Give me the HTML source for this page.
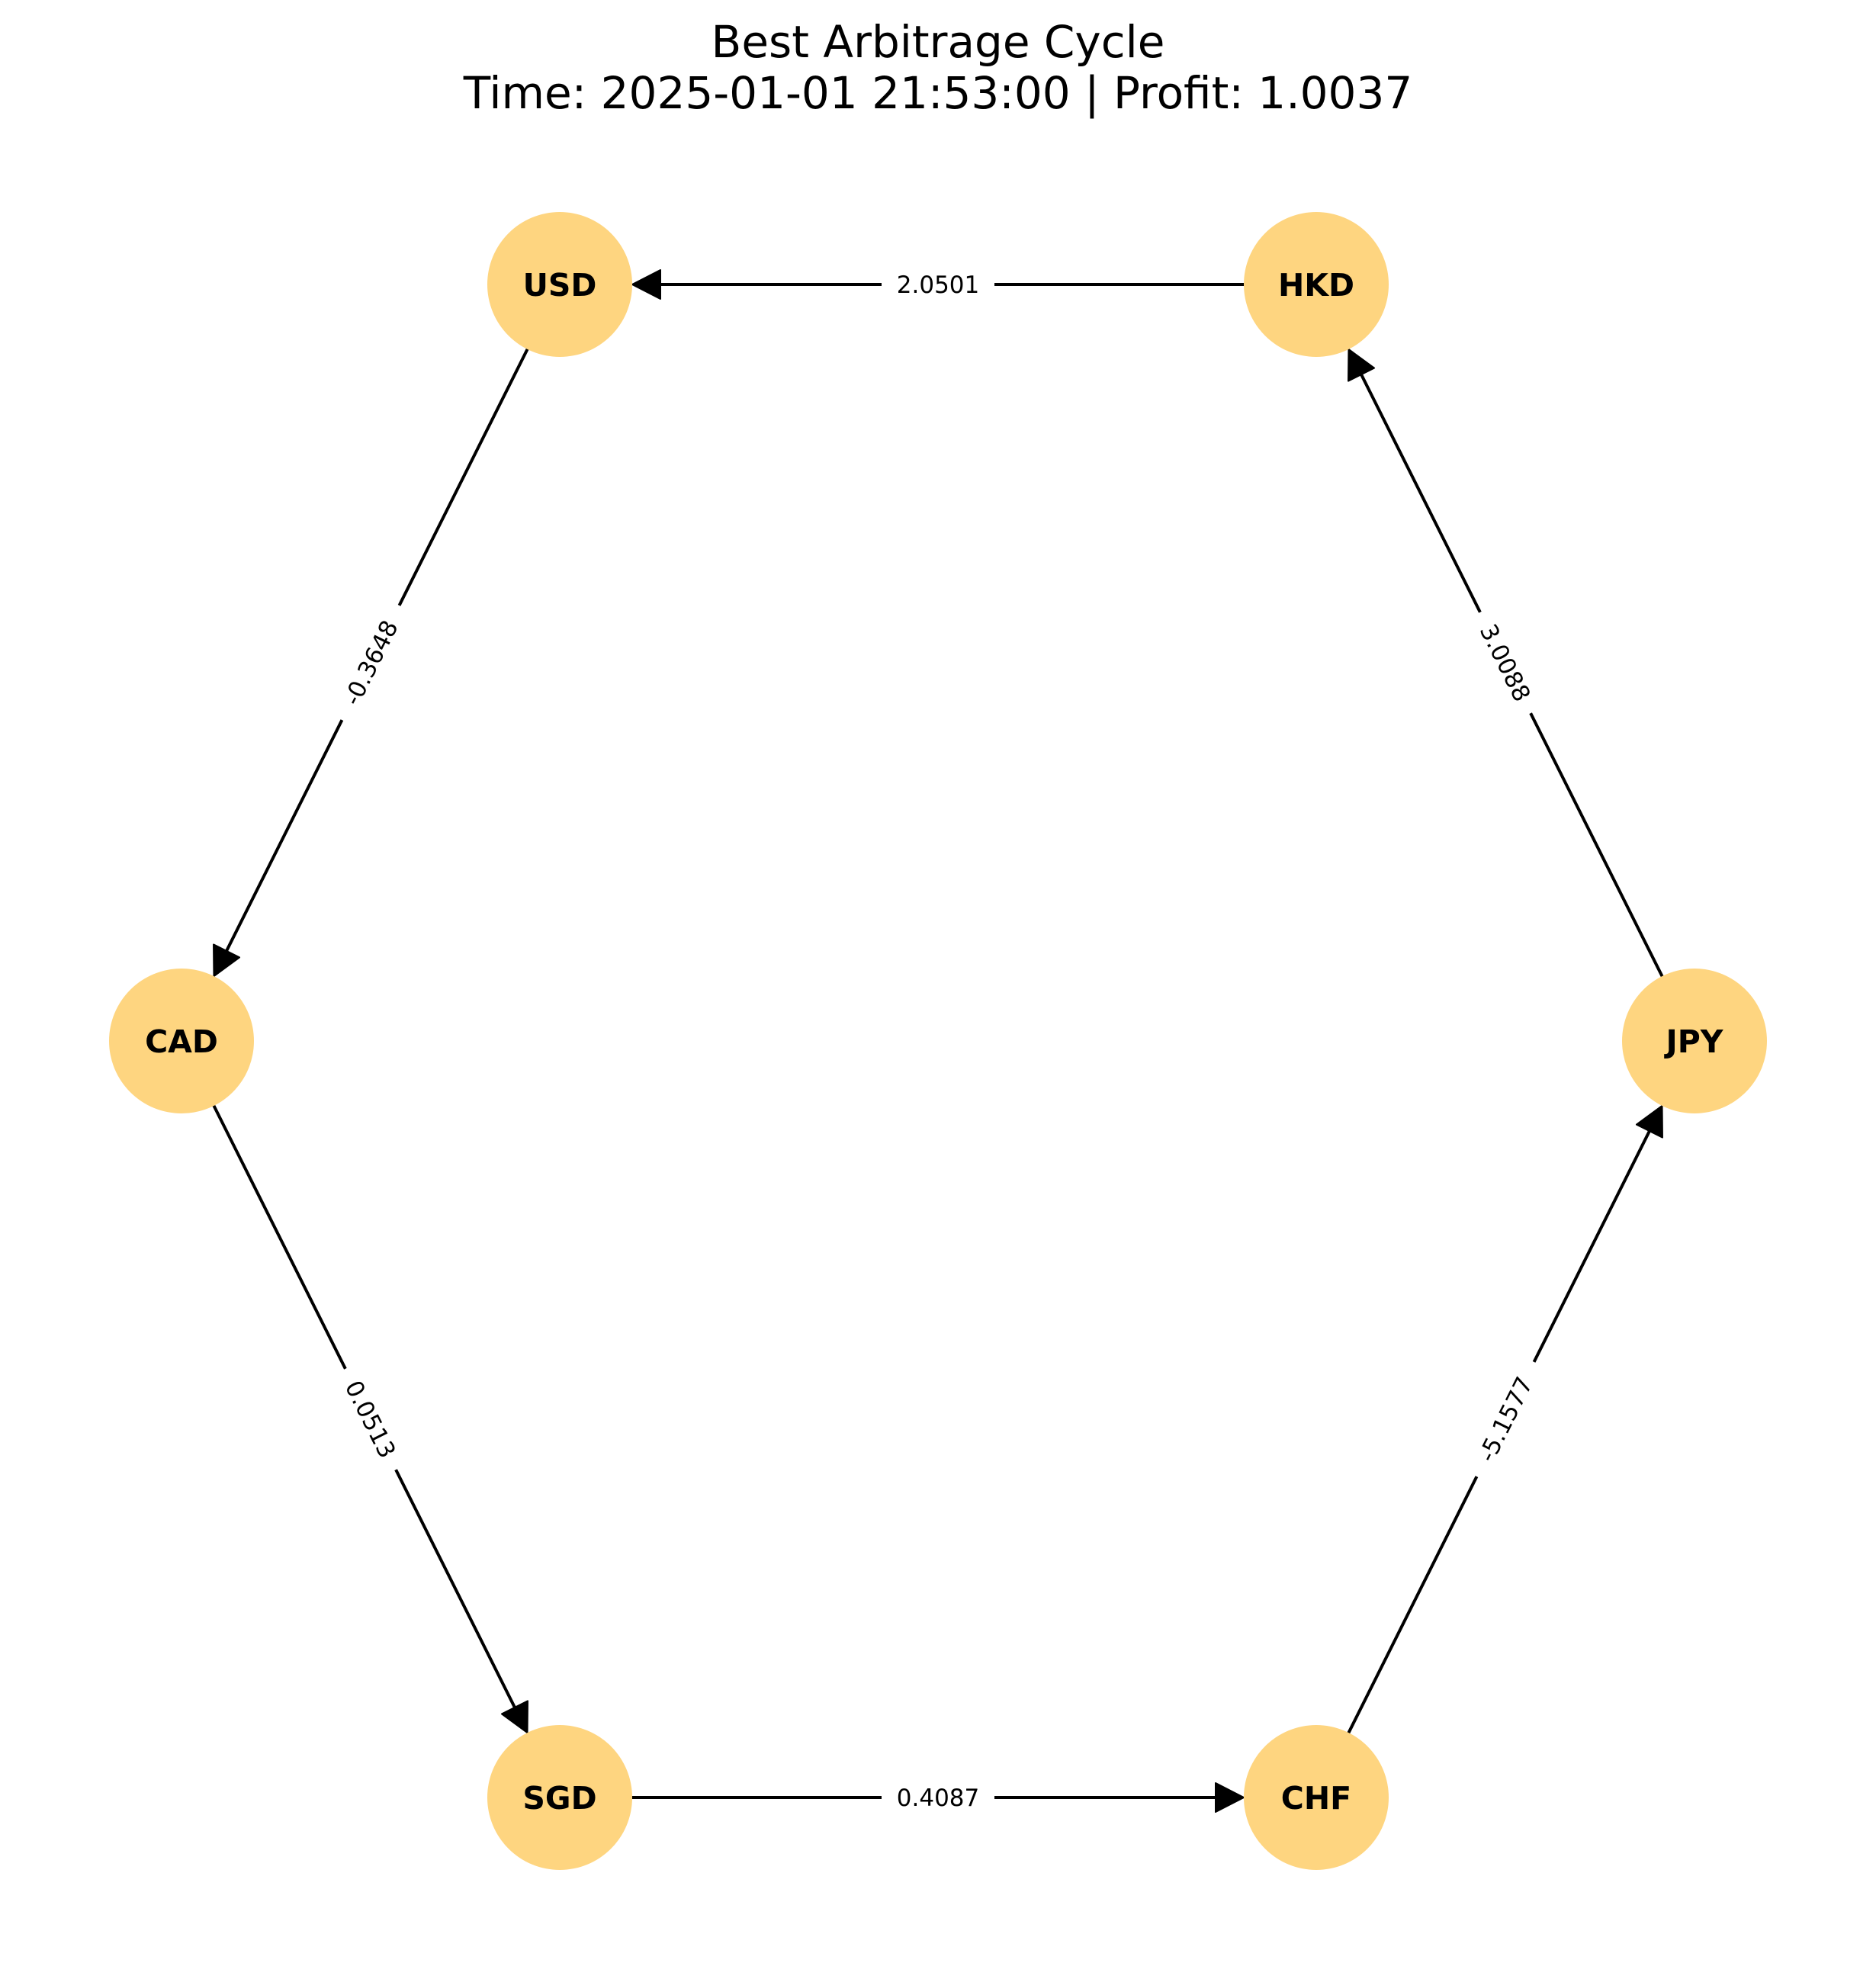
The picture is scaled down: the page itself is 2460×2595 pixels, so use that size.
<!DOCTYPE html>
<html><head><meta charset="utf-8"><style>body{margin:0;background:#fff}svg{display:block}</style></head>
<body>
<svg id="chart" width="2460" height="2595" viewBox="0 0 2460 2595" xmlns="http://www.w3.org/2000/svg" font-family="'DejaVu Sans','Liberation Sans',sans-serif">
<rect width="2460" height="2595" fill="#fff"/>
<text x="1230" y="75" font-size="58" text-anchor="middle">Best Arbitrage Cycle</text>
<text x="1230" y="142" font-size="58" text-anchor="middle">Time: 2025-01-01 21:53:00 | Profit: 1.0037</text>
<g id="edges"></g><g id="nodes"></g>
</svg>
<script>
const nodeNames = ["USD","HKD","CAD","JPY","SGD","CHF"];
const nodeX = [734,1726,238,2222,734,1726];
const nodeY = [373,373,1365,1365,2357,2357];
const edgeFrom = ["HKD","USD","CAD","SGD","CHF","JPY"];
const edgeTo = ["USD","CAD","SGD","CHF","JPY","HKD"];
const edgeWeights = ["2.0501","-0.3648","0.0513","0.4087","-5.1577","3.0088"];
const NS="http://www.w3.org/2000/svg", R=95;
const eg=document.getElementById('edges'), ng=document.getElementById('nodes');
function mk(t,a,p){const e=document.createElementNS(NS,t);for(const k in a)e.setAttribute(k,a[k]);p.appendChild(e);return e;}
function pos(n){const i=nodeNames.indexOf(n);return [nodeX[i],nodeY[i]];}
edgeFrom.forEach((f,i)=>{
  const [x1,y1]=pos(f),[x2,y2]=pos(edgeTo[i]);
  const dx=x2-x1,dy=y2-y1,L=Math.hypot(dx,dy),ux=dx/L,uy=dy/L;
  const tx=x2-ux*R,ty=y2-uy*R,al=37,aw=19;
  const bx=tx-ux*al,by=ty-uy*al;
  const line=mk('line',{x1:x1+ux*R*0.6,y1:y1+uy*R*0.6,x2:bx,y2:by,stroke:'#000','stroke-width':4},eg);
  
  
  const ah=mk('polygon',{points:`${tx},${ty} ${bx-uy*aw},${by+ux*aw} ${bx+uy*aw},${by-ux*aw}`,fill:'#000','stroke':'#000','stroke-width':2,'stroke-linejoin':'round'},eg);
  
  
  let ang=Math.atan2(dy,dx)*180/Math.PI; if(ang>90)ang-=180; if(ang<=-90)ang+=180;
  const mx=(x1+x2)/2,my=(y1+y2)/2;
  const g=mk('g',{transform:`translate(${mx},${my}) rotate(${ang})`},eg);
  
  
  const w=edgeWeights[i].length*20+28;
  mk('rect',{x:-w/2,y:-22,width:w,height:44,fill:'#fff'},g);
  const t=mk('text',{x:0,y:11,'font-size':31,'text-anchor':'middle'},g);
  t.textContent=edgeWeights[i];
});
nodeNames.forEach((n,i)=>{
  const g=mk('g',{},ng);
  
  
  mk('circle',{cx:nodeX[i],cy:nodeY[i],r:R,fill:'#fed580'},g);
  const t=mk('text',{x:nodeX[i],y:nodeY[i]+15,'font-size':41,'font-weight':'bold','text-anchor':'middle'},g);
  t.textContent=n;
});
</script>
</body></html>
